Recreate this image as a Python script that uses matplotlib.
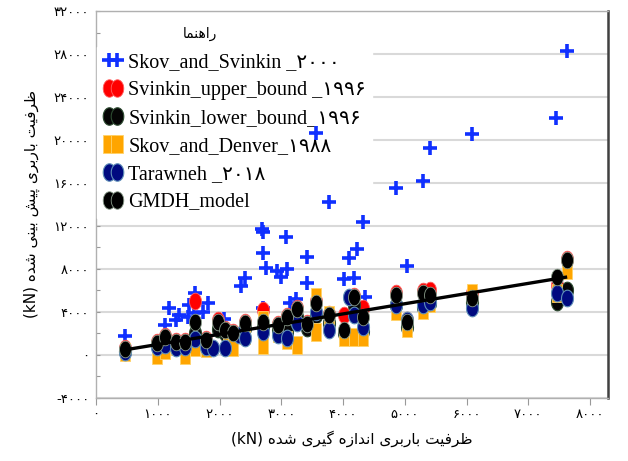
import numpy as np
import matplotlib
matplotlib.use("Agg")
import matplotlib.pyplot as plt
from matplotlib.path import Path
from matplotlib.ticker import FixedLocator, FuncFormatter

# --- data (kN) ---
# Skov and Svinkin 2000 (blue plus)
sks_x = [470, 1110, 1180, 1290, 1340, 1490, 1500, 1590, 1600, 1730, 1810, 2070, 2340, 2410,
         2680, 2710, 2700, 2760, 2700, 2930, 2990, 3080, 3100, 3140, 3230, 3410, 3410, 3560,
         3770, 4010, 4090, 4170, 4220, 4330, 4360, 4860, 5030, 5300, 5410, 6090, 7450, 7630]
sks_y = [1770, 2790, 4370, 3260, 3720, 3530, 4650, 3910, 5770, 4000, 4840, 3350, 6420, 7160,
         11720, 11440, 9490, 8090, 4370, 7810, 7250, 10970, 8000, 4840, 5210, 9110, 6700, 20650,
         14230, 7070, 9020, 7160, 9860, 12370, 5390, 15530, 8280, 16180, 19250, 20550, 22040, 28270]

# piles shared by Svinkin bounds and GMDH
pile_x = [470, 990, 1110, 1290, 1440, 1600, 1780, 1970, 2090, 2210, 2410, 2700, 2940, 3100,
          3250, 3410, 3560, 3770, 4010, 4170, 4330, 4860, 5030, 5300, 5410, 6090, 7470, 7630]
upper_y = [650, 1200, 1800, 1300, 1300, 5020, 1500, 3200, 2400, 2150, 3100, 4190, 2900, 3650,
           4400, 3000, 5000, 3850, 3720, 5500, 4370, 5750, 3200, 5950, 6050, 5770, 6500, 8900]
lower_y = [400, 900, 1300, 1000, 1100, 2050, 1200, 2400, 2000, 1800, 2500, 2600, 2300, 2140,
           3500, 2500, 3700, 3000, 2000, 4650, 2230, 4600, 2600, 4500, 4800, 4930, 4930, 6050]
gmdh_y = [560, 1120, 1670, 1210, 1210, 3070, 1400, 3070, 2330, 2050, 2980, 3070, 2790, 3530,
          4280, 2880, 4840, 3720, 2330, 5390, 3530, 5580, 3070, 5770, 5580, 5300, 7250, 8840]

# Skov and Denver 1988 (orange)
sd_x = [470, 990, 1110, 1290, 1440, 1600, 1780, 2130, 2210, 2410, 2700, 2700, 2940, 3100,
        3250, 3560, 3560, 3770, 4010, 4170, 4330, 4860, 5030, 5300, 5410, 6090, 7470, 7630]
sd_y = [300, 0, 470, 800, 0, 740, 600, 1400, 740, 1860, 3260, 930, 2050, 1400,
        930, 5400, 2140, 3720, 1670, 1670, 1650, 4100, 2500, 4190, 4840, 5770, 5800, 7900]

# Tarawneh 2018 (navy)
tw_x = [470, 990, 1110, 1290, 1440, 1600, 1780, 1900, 2090, 2310, 2410, 2700, 2940, 3100,
        3250, 3560, 3770, 4090, 4170, 4330, 4860, 5030, 5300, 5410, 6090, 7470, 7630]
tw_y = [300, 740, 930, 650, 740, 1500, 740, 650, 650, 1860, 1580, 2140, 1860, 1580,
        2980, 4010, 2330, 5390, 3700, 2600, 4600, 3260, 4650, 4900, 4370, 5770, 5300]

# GMDH trend line end points
line_x = [450, 7630]
line_y = [450, 7250]

x_ticks = [0, 1000, 2000, 3000, 4000, 5000, 6000, 7000, 8000]
y_ticks = [-4000, 0, 4000, 8000, 12000, 16000, 20000, 24000, 28000, 32000]

legend_title = "راهنما"
xlabel_fa = "ظرفیت باربری اندازه گیری شده"
ylabel_fa = "ظرفیت باربری پیش بینی شده"

# --- minimal Persian shaping (matplotlib has no RTL layout) ---
FORMS = {
    'ا': ('\uFE8D', '\uFE8E', None, None),
    'ب': ('\uFE8F', '\uFE90', '\uFE91', '\uFE92'),
    'پ': ('\uFB56', '\uFB57', '\uFB58', '\uFB59'),
    'ت': ('\uFE95', '\uFE96', '\uFE97', '\uFE98'),
    'د': ('\uFEA9', '\uFEAA', None, None),
    'ر': ('\uFEAD', '\uFEAE', None, None),
    'ز': ('\uFEAF', '\uFEB0', None, None),
    'ش': ('\uFEB5', '\uFEB6', '\uFEB7', '\uFEB8'),
    'ظ': ('\uFEC5', '\uFEC6', '\uFEC7', '\uFEC8'),
    'ف': ('\uFED1', '\uFED2', '\uFED3', '\uFED4'),
    'گ': ('\uFB92', '\uFB93', '\uFB94', '\uFB95'),
    'م': ('\uFEE1', '\uFEE2', '\uFEE3', '\uFEE4'),
    'ن': ('\uFEE5', '\uFEE6', '\uFEE7', '\uFEE8'),
    'ه': ('\uFEE9', '\uFEEA', '\uFEEB', '\uFEEC'),
    'ی': ('\uFBFC', '\uFBFD', '\uFBFE', '\uFBFF'),
}


def shape_fa(s):
    out = []
    for i, ch in enumerate(s):
        if ch not in FORMS:
            out.append(ch)
            continue
        prev = s[i - 1] if i > 0 else ''
        nxt = s[i + 1] if i + 1 < len(s) else ''
        iso, fin, ini, med = FORMS[ch]
        join_prev = prev in FORMS and FORMS[prev][2] is not None
        join_next = ini is not None and nxt in FORMS
        if join_prev and join_next:
            out.append(med)
        elif join_prev:
            out.append(fin)
        elif join_next:
            out.append(ini)
        else:
            out.append(iso)
    return ''.join(reversed(out))


FA_DIGITS = str.maketrans('0123456789', '۰۱۲۳۴۵۶۷۸۹')


def fa_num(v, pos=None):
    return str(int(v)).translate(FA_DIGITS)


# custom marker shapes: tall ellipse and tall rectangle
t = np.linspace(0, 2 * np.pi, 41)
ellipse = Path(np.column_stack([0.72 * np.cos(t), np.sin(t)]), closed=True)
rect = Path([(-0.62, -1), (0.62, -1), (0.62, 1), (-0.62, 1), (-0.62, -1)], closed=True)

serif = ['Liberation Serif', 'DejaVu Sans']
plt.rcParams['font.family'] = serif

fig = plt.figure(figsize=(6.28, 4.61), dpi=100)
ax = fig.add_axes([0.153, 0.137, 0.815, 0.839])

ax.plot(sks_x, sks_y, linestyle='none', marker='+', ms=10, mew=2.6, color='#1030ff',
        label='Skov_and_Svinkin _۲۰۰۰', zorder=3)
ax.plot(pile_x, upper_y, linestyle='none', marker=ellipse, ms=12, mfc='#ff0000', mec='#ff6060',
        mew=0.6, label='Svinkin_upper_bound _۱۹۹۶', zorder=4)
ax.plot(pile_x, lower_y, linestyle='none', marker=ellipse, ms=12, mfc='#050505', mec='#2c4a30',
        mew=0.8, label='Svinkin_lower_bound_۱۹۹۶', zorder=5)
ax.plot(sd_x, sd_y, linestyle='none', marker=rect, ms=12.5, mfc='#ffa500', mec='#ffd36a',
        mew=0.6, label='Skov_and_Denver_۱۹۸۸', zorder=6)
ax.plot(tw_x, tw_y, linestyle='none', marker=ellipse, ms=12, mfc='#000a80', mec='#5f8fb8',
        mew=0.8, label='Tarawneh _۲۰۱۸', zorder=7)
ax.plot(pile_x, gmdh_y, linestyle='none', marker=ellipse, ms=12, mfc='#000000', mec='#8a9c8a',
        mew=0.6, label='GMDH_model', zorder=8)
ax.plot(line_x, line_y, color='black', lw=2.4, solid_capstyle='butt', zorder=9)

ax.set_xlim(0, 8290)
ax.set_ylim(-4000, 32000)
ax.xaxis.set_major_locator(FixedLocator(x_ticks))
ax.yaxis.set_major_locator(FixedLocator(y_ticks))
ax.yaxis.set_minor_locator(FixedLocator(np.array(y_ticks[:-1]) + 2000))
ax.xaxis.set_major_formatter(FuncFormatter(fa_num))
ax.yaxis.set_major_formatter(FuncFormatter(
    lambda v, p: ('-' if v < 0 else '') + fa_num(abs(v))))

for lab in ax.get_xticklabels() + ax.get_yticklabels():
    lab.set_fontfamily('DejaVu Sans')
    lab.set_fontsize(9.5)
ax.tick_params(axis='x', direction='out', length=5, width=0.8, color='#999999', pad=2)
ax.tick_params(axis='y', which='both', direction='in', length=3, width=0.8, color='#999999', pad=5)

ax.grid(axis='y', color='#d9d9d9', lw=1.5)
ax.set_axisbelow(True)
for s in ['top', 'left', 'bottom']:
    ax.spines[s].set_color('#b0b0b0')
    ax.spines[s].set_linewidth(1.0)
ax.spines['right'].set_color('#404040')
ax.spines['right'].set_linewidth(1.8)

ax.set_xlabel('(kN) ' + shape_fa(xlabel_fa), family=['DejaVu Sans'], fontsize=11, labelpad=7)
ax.set_ylabel('(kN) ' + shape_fa(ylabel_fa), family=['DejaVu Sans'], fontsize=11, labelpad=10)

leg = ax.legend(loc='upper left', bbox_to_anchor=(0.002, 0.908), numpoints=2, frameon=True,
                fancybox=False, edgecolor='white', facecolor='white', framealpha=1,
                prop={'family': serif, 'size': 14.5}, handlelength=1.0, handletextpad=0.25,
                labelspacing=0.44, borderpad=0.3, borderaxespad=0, markerscale=1.05)
# legend sits over the grid but under the plotted points, as in the reference
leg.set_zorder(2.5)
# legend heading placed where the reference shows it
ax.text(0.203, 0.942, shape_fa(legend_title), transform=ax.transAxes, ha='center', va='center',
        family='DejaVu Sans', fontsize=10, zorder=2.6)

fig.savefig('out.png', dpi=100)
